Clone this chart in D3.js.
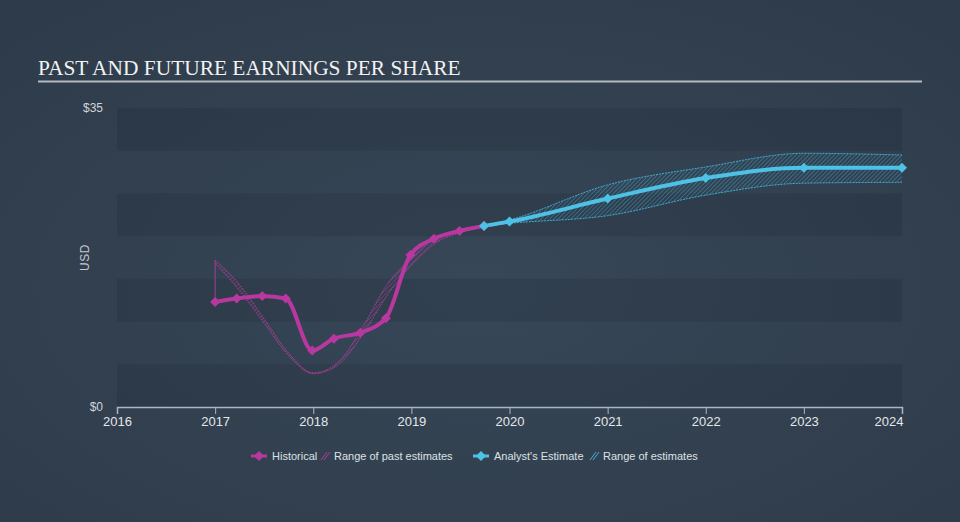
<!DOCTYPE html>
<html>
<head>
<meta charset="utf-8">
<script src="https://cdn.jsdelivr.net/npm/d3@7"></script>
<style>
  body { margin: 0; background: #323f4f; }
  svg { display: block; }
</style>
</head>
<body>
<div id="chart"></div>
<script>
// historical EPS (decimal year, value)
const histDates = [2017.0, 2017.22, 2017.48, 2017.72, 2017.99, 2018.21, 2018.48, 2018.74, 2018.99, 2019.23, 2019.49, 2019.74];
const histValues = [12.3, 12.7, 13.0, 12.7, 6.6, 8.0, 8.7, 10.4, 17.8, 19.7, 20.6, 21.2];

// range of past estimates
const pastDates = [2017.0, 2017.25, 2017.5, 2017.75, 2018.0, 2018.25, 2018.5, 2018.75, 2019.0, 2019.25, 2019.5, 2019.75, 2020.0];
const pastLow = [16.8, 13.6, 9.8, 6.0, 3.9, 4.9, 8.4, 13.0, 16.6, 19.2, 20.4, 21.1, 21.6];
const pastHigh = [17.2, 14.3, 10.3, 6.3, 4.0, 5.2, 9.3, 14.3, 17.4, 19.8, 20.8, 21.3, 21.8];

// analyst estimates
const estDates = [2019.74, 2020.0, 2021.0, 2022.0, 2023.0, 2024.0];
const estValues = [21.2, 21.7, 24.4, 26.8, 28.0, 28.0];
const estLow = [21.2, 21.5, 22.4, 24.8, 26.2, 26.3];
const estHigh = [21.2, 21.9, 26.0, 28.1, 29.7, 29.5];

const xTicks = [2016, 2017, 2018, 2019, 2020, 2021, 2022, 2023, 2024];
const yTicks = [0, 35];

const W = 960, H = 522;
const m = {left: 117, right: 58, top: 108, bottom: 115};

const svg = d3.select('#chart').append('svg')
  .attr('width', W)
  .attr('height', H);

const defs = svg.append('defs');
const bg = defs.append('radialGradient').attr('id', 'bg')
  .attr('cx', '50%').attr('cy', '55%').attr('r', '70%');
bg.append('stop').attr('offset', '0%').attr('stop-color', '#374757');
bg.append('stop').attr('offset', '100%').attr('stop-color', '#2e3b4a');

function hatch(id, color) {
  const p = defs.append('pattern').attr('id', id)
    .attr('patternUnits', 'userSpaceOnUse')
    .attr('width', 3).attr('height', 3)
    .attr('patternTransform', 'rotate(45)');
  p.append('line').attr('x1', 0).attr('y1', 0).attr('x2', 0).attr('y2', 3)
    .attr('stroke', color).attr('stroke-width', 1);
}
hatch('hatchPast', 'rgba(190,60,165,0.85)');
hatch('hatchEst', 'rgba(70,185,225,0.75)');

svg.append('rect').attr('width', W).attr('height', H).attr('fill', 'url(#bg)');

// title
svg.append('text')
  .attr('x', 38).attr('y', 75)
  .style('font-family', '"Liberation Serif", "DejaVu Serif", serif')
  .style('font-size', '21.4px')
  .style('fill', '#f2f2f2')
  .text('PAST AND FUTURE EARNINGS PER SHARE');
svg.append('line')
  .attr('x1', 38).attr('x2', 922).attr('y1', 81.5).attr('y2', 81.5)
  .attr('stroke', '#b4b9c0').attr('stroke-width', 2);

const x = d3.scaleLinear().domain([2016, 2024]).range([m.left, W - m.right]);
const y = d3.scaleLinear().domain([0, 35]).range([H - m.bottom, m.top]);

// bands
const bandVals = d3.range(0, 35, 5);
svg.append('g').selectAll('rect')
  .data(bandVals.filter((d, i) => i % 2 === 0))
  .enter().append('rect')
  .attr('x', x(2016))
  .attr('width', x(2024) - x(2016))
  .attr('y', d => y(d + 5))
  .attr('height', d => y(d) - y(d + 5))
  .attr('fill', 'rgba(20,30,42,0.15)');

// y labels
svg.append('g').selectAll('text')
  .data(yTicks).enter().append('text')
  .attr('x', 103)
  .attr('y', d => y(d) + 4)
  .attr('text-anchor', 'end')
  .style('font-family', '"Liberation Sans", Arial, sans-serif')
  .style('font-size', '12px')
  .style('fill', '#d0d4d9')
  .text(d => '$' + d);

svg.append('text')
  .attr('transform', `translate(89,${(y(0) + y(35)) / 2}) rotate(-90)`)
  .attr('text-anchor', 'middle')
  .style('font-family', '"Liberation Sans", Arial, sans-serif')
  .style('font-size', '12px')
  .style('letter-spacing', '0.5px')
  .style('fill', '#c5cad0')
  .text('USD');

// x axis
const xAxis = svg.append('g')
  .attr('transform', `translate(0,${y(0)})`)
  .call(d3.axisBottom(x).tickValues(xTicks).tickFormat(d3.format('d')).tickSize(7).tickPadding(3));
xAxis.select('.domain').attr('stroke', '#a9b6c4').attr('stroke-width', 1.5);
xAxis.selectAll('.tick line').attr('stroke', '#a9b6c4');
xAxis.selectAll('.tick text')
  .style('font-family', '"Liberation Sans", Arial, sans-serif')
  .style('font-size', '13px')
  .style('fill', '#e4e7ea');
xAxis.selectAll('.tick text').filter(d => d === 2024).attr('text-anchor', 'end').attr('dx', 1);

// bands of estimates
const area = d3.area().curve(d3.curveMonotoneX)
  .x(d => x(d.t)).y0(d => y(d.lo)).y1(d => y(d.hi));
const edge = d3.line().curve(d3.curveMonotoneX).x(d => x(d.t)).y(d => y(d.v));

const pastData = pastDates.map((t, i) => ({t, lo: pastLow[i], hi: pastHigh[i]}));
const estData = estDates.map((t, i) => ({t, lo: estLow[i], hi: estHigh[i]}));

function rangeBand(data, fillId, color) {
  const g = svg.append('g');
  g.append('path').datum(data).attr('d', area).attr('fill', `url(#${fillId})`);
  ['lo', 'hi'].forEach(k => {
    g.append('path').datum(data.map(d => ({t: d.t, v: d[k]})))
      .attr('d', edge)
      .attr('fill', 'none')
      .attr('stroke', color)
      .attr('stroke-width', 1)
      .attr('stroke-dasharray', '2,1');
  });
}
rangeBand(pastData, 'hatchPast', 'rgba(190,60,165,0.8)');
// connector at start of past range
svg.append('line')
  .attr('x1', x(histDates[0])).attr('x2', x(pastDates[0]))
  .attr('y1', y(histValues[0])).attr('y2', y(pastHigh[0]))
  .attr('stroke', 'rgba(190,60,165,0.8)').attr('stroke-width', 1);
rangeBand(estData, 'hatchEst', 'rgba(70,185,225,0.85)');

// lines
const magenta = '#b8389f';
const blue = '#4ec1e6';
const line = d3.line().curve(d3.curveMonotoneX).x(d => x(d[0])).y(d => y(d[1]));
const hist = histDates.map((t, i) => [t, histValues[i]]);
const est = estDates.map((t, i) => [t, estValues[i]]);

svg.append('path').datum(hist).attr('d', line)
  .attr('fill', 'none').attr('stroke', magenta).attr('stroke-width', 4);
svg.append('path').datum(est).attr('d', line)
  .attr('fill', 'none').attr('stroke', blue).attr('stroke-width', 4);

// square turned 45deg, like the reference markers
const diamond = d3.symbol().type(d3.symbolSquare).size(50);
svg.append('g').selectAll('path').data(hist).enter().append('path')
  .attr('d', diamond)
  .attr('transform', d => `translate(${x(d[0])},${y(d[1])}) rotate(45)`)
  .attr('fill', magenta);
svg.append('g').selectAll('path').data(est).enter().append('path')
  .attr('d', diamond)
  .attr('transform', d => `translate(${x(d[0])},${y(d[1])}) rotate(45)`)
  .attr('fill', blue);

// legend
const legend = svg.append('g').attr('transform', 'translate(0,456)');
const legItems = [
  {type: 'line', color: magenta, x: 251, label: 'Historical', tx: 272},
  {type: 'hatch', color: 'rgba(190,60,165,0.9)', x: 321, label: 'Range of past estimates', tx: 334},
  {type: 'line', color: blue, x: 473, label: "Analyst's Estimate", tx: 494},
  {type: 'hatch', color: 'rgba(70,185,225,0.9)', x: 590, label: 'Range of estimates', tx: 603}
];
legItems.forEach(it => {
  if (it.type === 'line') {
    legend.append('line').attr('x1', it.x).attr('x2', it.x + 16).attr('y1', 0).attr('y2', 0)
      .attr('stroke', it.color).attr('stroke-width', 3);
    legend.append('path').attr('d', diamond).attr('transform', `translate(${it.x + 8},0) rotate(45)`).attr('fill', it.color);
  } else {
    [0, 3].forEach(o => legend.append('line')
      .attr('x1', it.x + o).attr('x2', it.x + o + 6).attr('y1', 4).attr('y2', -4)
      .attr('stroke', it.color).attr('stroke-width', 1));
  }
  legend.append('text').attr('x', it.tx).attr('y', 4)
    .style('font-family', '"Liberation Sans", Arial, sans-serif')
    .style('font-size', '11px')
    .style('fill', '#dde1e5')
    .text(it.label);
});
</script>
</body>
</html>
